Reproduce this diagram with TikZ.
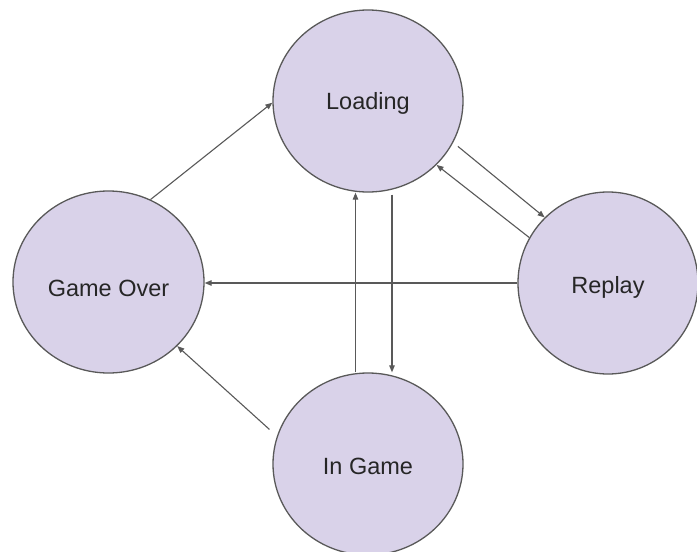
\documentclass[tikz,border=0pt]{standalone}
\usepackage{fontspec}
\setmainfont{Liberation Sans}
\usetikzlibrary{shapes.geometric,arrows.meta}
\definecolor{statefill}{HTML}{D9D2E9}
\definecolor{statedraw}{HTML}{595959}
\definecolor{linegray}{HTML}{595959}
\definecolor{txt}{HTML}{262626}
\tikzset{
  state/.style={ellipse, draw=statedraw, fill=statefill, line width=1.3pt,
    minimum width=190pt, minimum height=182pt, inner sep=0pt,
    text height=17pt, text depth=0pt,
    font=\fontsize{23.5}{28}\selectfont, text=txt},
  conn/.style={draw=linegray, line width=1.1pt,
    -{Triangle[length=7pt,width=5.5pt]}}
}
\begin{document}
\begin{tikzpicture}[x=1pt,y=-1pt]
\fill[white] (0,0) rectangle (697,552);
\useasboundingbox (0,0) rectangle (697,552);
\node[state] (L) at (368,101) {Loading};
\node[state, minimum width=191pt] (GO) at (108.5,282) {\raisebox{-6pt}{Game Over}};
\node[state, minimum width=180pt] (R) at (608,283) {\raisebox{-1.5pt}{Replay}};
\node[state] (IG) at (368,464) {\raisebox{-1.5pt}{In Game}};
% connectors
\draw[conn] (GO.63.7) -- (L.181);
\draw[conn, shorten <=6pt] (L.-26.6) -- (R.134.1);
\draw[conn] (R.150.9) -- (L.-43.3);
\draw[conn] (R.west) -- (R.west -| GO.east);
\draw[conn] ([xshift=-12.5pt]IG.north) -- ([xshift=-12.5pt]L.south);
\draw[conn] ([xshift=24pt,yshift=-2pt]L.south) -- ([xshift=24pt]IG.north);
\draw[conn, shorten <=10pt] (IG.163.5) -- (GO.-43.5);
\end{tikzpicture}
\end{document}
